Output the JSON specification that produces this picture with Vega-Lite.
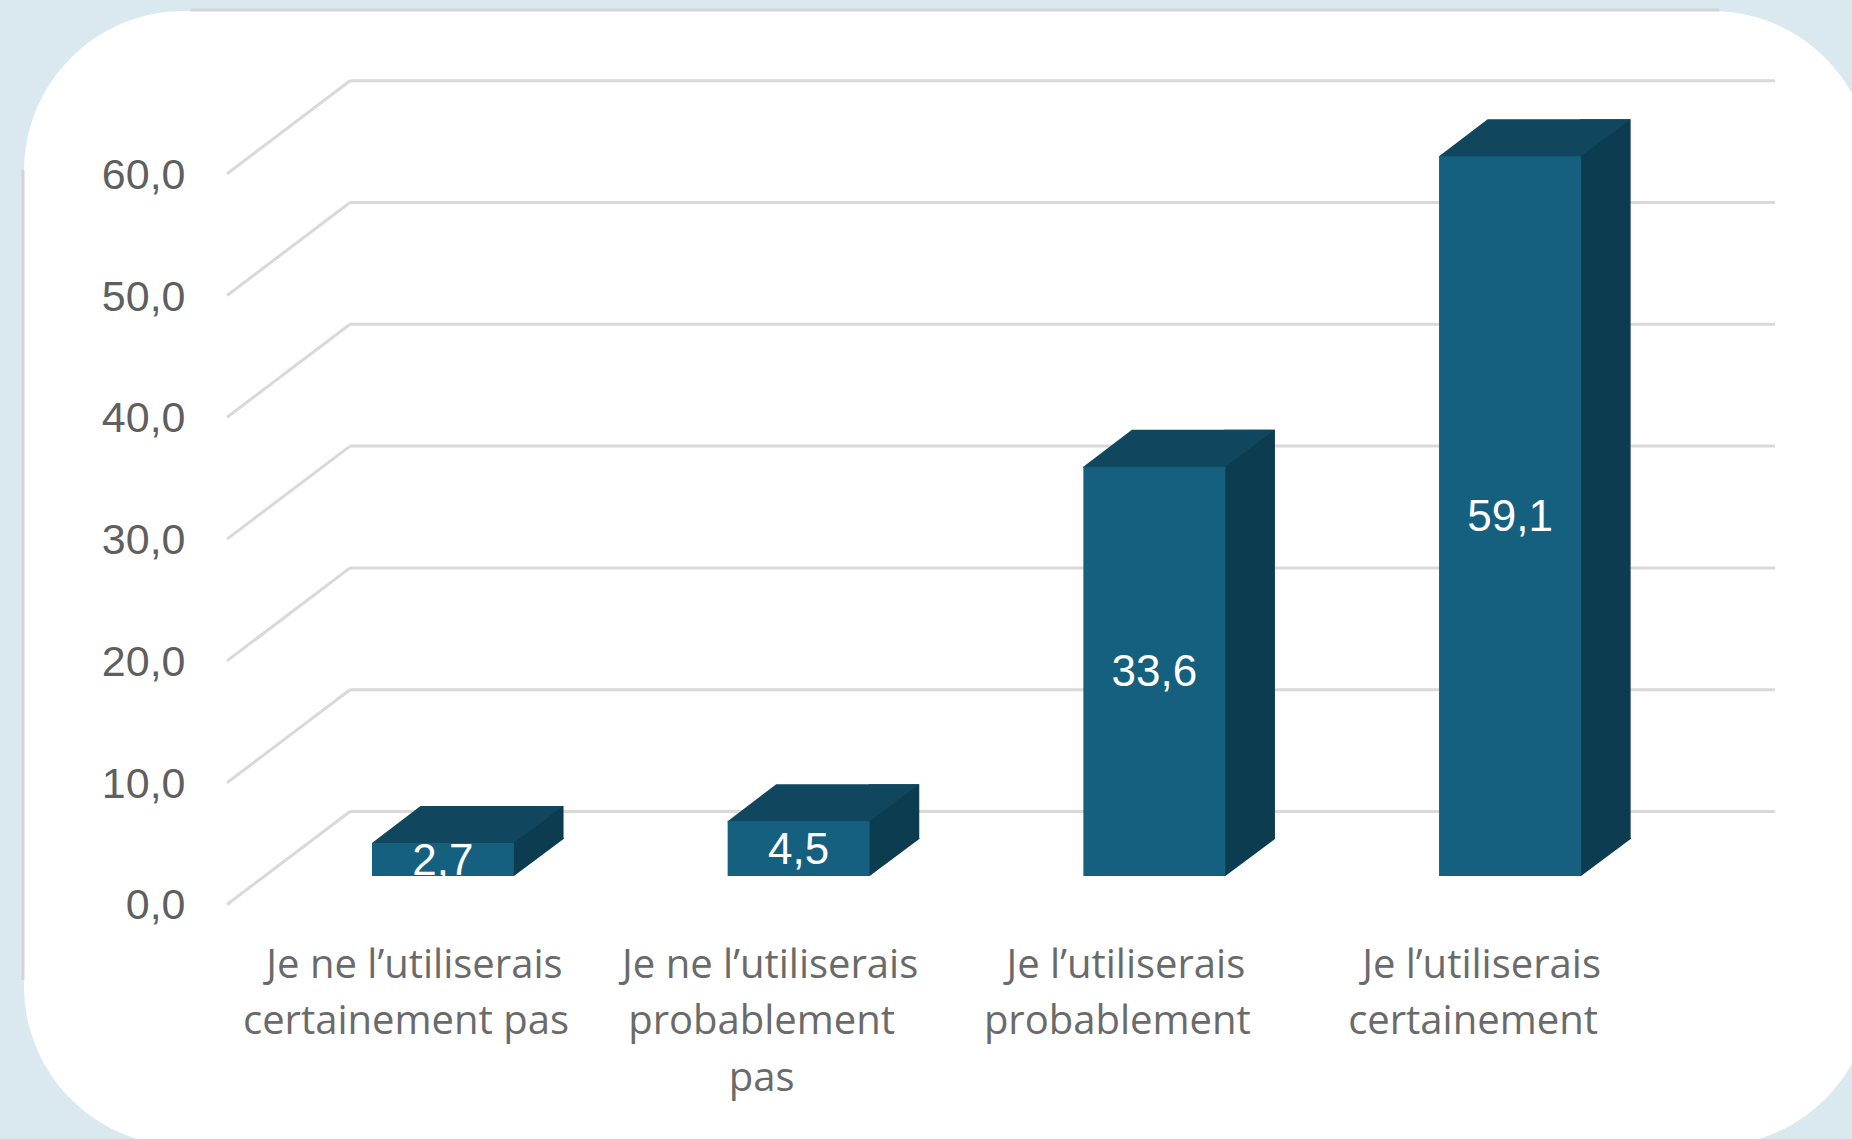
{
"$schema":"https://vega.github.io/schema/vega-lite/v6.json",
"width":1848,"height":1135,
"autosize":{"type":"none"},
"padding":{"left":24,"top":11,"right":0,"bottom":0},
"background":"#DAE9F0",
"view":{"fill":"#FFFFFF","stroke":null,"cornerRadius":160},
"datasets":{
"reponses":[
{"reponse":"Je ne l’utiliserais\ncertainement pas","valeur":2.7,"etiquette":"2,7"},
{"reponse":"Je ne l’utiliserais\nprobablement\npas","valeur":4.5,"etiquette":"4,5"},
{"reponse":"Je l’utiliserais\nprobablement","valeur":33.6,"etiquette":"33,6"},
{"reponse":"Je l’utiliserais\ncertainement","valeur":59.1,"etiquette":"59,1"}
],
"graduations":[{"g":0},{"g":10},{"g":20},{"g":30},{"g":40},{"g":50},{"g":60}],
"bord":[{"debut":-0.112,"fin":0.961,"niveau":71.1}],
"bordg":[{"pos":-0.2295,"debut":57.96,"fin":-8.54}]
},
"resolve":{"scale":{"x":"independent","y":"independent"},"axis":{"x":"independent","y":"independent"}},
"layer":[
{
"data":{"name":"graduations"},
"encoding":{
"y":{"field":"g","type":"quantitative","scale":{"domain":[-22.17,71.02],"nice":false,"zero":false},
"axis":{"orient":"left","values":[0,10,20,30,40,50,60],"title":null,"grid":false,"domain":false,"ticks":false,"offset":-161,"labelPadding":0,"labelOffset":30,"labelFont":"Liberation Sans","labelFontSize":43,"labelColor":"#5F5F5F","labelExpr":"replace(format(datum.value,'.1f'),'.',',')"}}
},
"layer":[
{"mark":{"type":"rule","stroke":"#D9D9D9","strokeWidth":3,"yOffset":-64.5},
"encoding":{"x":{"datum":0,"type":"quantitative","scale":{"domain":[-0.2295,1],"range":[-1,1751],"nice":false,"zero":false},"axis":null},"x2":{"datum":1}}},
{"mark":{"type":"point","shape":"M0,0L-123,93","size":4,"filled":false,"opacity":1,"stroke":"#D9D9D9","strokeWidth":3,"yOffset":-64.5},
"encoding":{"x":{"datum":0,"type":"quantitative","axis":null}}},
{"data":{"name":"bord"},"mark":{"type":"rule","stroke":"#D4D4D4","strokeWidth":3},
"encoding":{"x":{"field":"debut","type":"quantitative","axis":null},"x2":{"field":"fin"},"y":{"field":"niveau","type":"quantitative"}}},
{"data":{"name":"bordg"},"mark":{"type":"rule","stroke":"#D4D4D4","strokeWidth":3},
"encoding":{"x":{"field":"pos","type":"quantitative","axis":null},"y":{"field":"debut","type":"quantitative"},"y2":{"field":"fin"}}}
]
},
{
"data":{"name":"reponses"},
"encoding":{
"x":{"field":"reponse","type":"nominal","sort":null,"scale":{"range":[241.1,1663.9],"paddingInner":0.6008,"paddingOuter":0.3004},
"axis":{"orient":"bottom","title":null,"domain":false,"ticks":false,"grid":false,"labelAngle":0,"offset":-145,"labelPadding":0,"labelOffset":-37,"labelFont":"Open Sans","labelFontSize":40,"labelColor":"#6A6A6A","labelLineHeight":57,"labelBaseline":"top","labelAlign":"center","labelLimit":0,"labelOverlap":false,"labelBound":false,"labelExpr":"slice(split(datum.label,'\\n'),1)"}},
"y":{"field":"valeur","type":"quantitative","scale":{"domain":[-22.17,71.02],"nice":false,"zero":false},"axis":null}
},
"layer":[
{"mark":{"type":"bar","width":50.6,"xOffset":95.3,"yOffset":-37,"y2Offset":-37,"fill":"#0B3C4F"}},
{"mark":{"type":"point","shape":"M70,0L70,-38L120.6,-38L120.6,-37L71,0Z","size":4,"filled":true,"opacity":1,"fill":"#0B3C4F","strokeWidth":0},
"encoding":{"y":{"datum":0,"type":"quantitative"}}},
{"mark":{"type":"point","shape":"M-71,1L71,1L71,0L120.6,-37L-22.4,-37L-71,0Z","size":4,"filled":true,"opacity":1,"fill":"#10475F","strokeWidth":0}},
{"mark":{"type":"bar","fill":"#15607E"}}
]
},
{
"data":{"name":"reponses"},
"mark":{"type":"text","font":"Liberation Sans","fontSize":44,"fill":"#FFFFFF","baseline":"middle","align":"center","dy":2},
"encoding":{
"x":{"field":"reponse","type":"nominal","sort":null,"scale":{"range":[241.1,1663.9],"paddingInner":0.6008,"paddingOuter":0.3004},
"axis":{"orient":"bottom","title":null,"domain":false,"ticks":false,"grid":false,"labelAngle":0,"offset":-201,"labelPadding":0,"labelOffset":-29,"labelFont":"Open Sans","labelFontSize":40,"labelColor":"#6A6A6A","labelBaseline":"top","labelAlign":"center","labelLimit":0,"labelOverlap":false,"labelBound":false,"labelExpr":"split(datum.label,'\\n')[0]"}},
"y":{"field":"valeur","type":"quantitative","scale":{"domain":[-44.34,142.04],"nice":false,"zero":false},"axis":null},
"text":{"field":"etiquette"}
}
}
]
}
